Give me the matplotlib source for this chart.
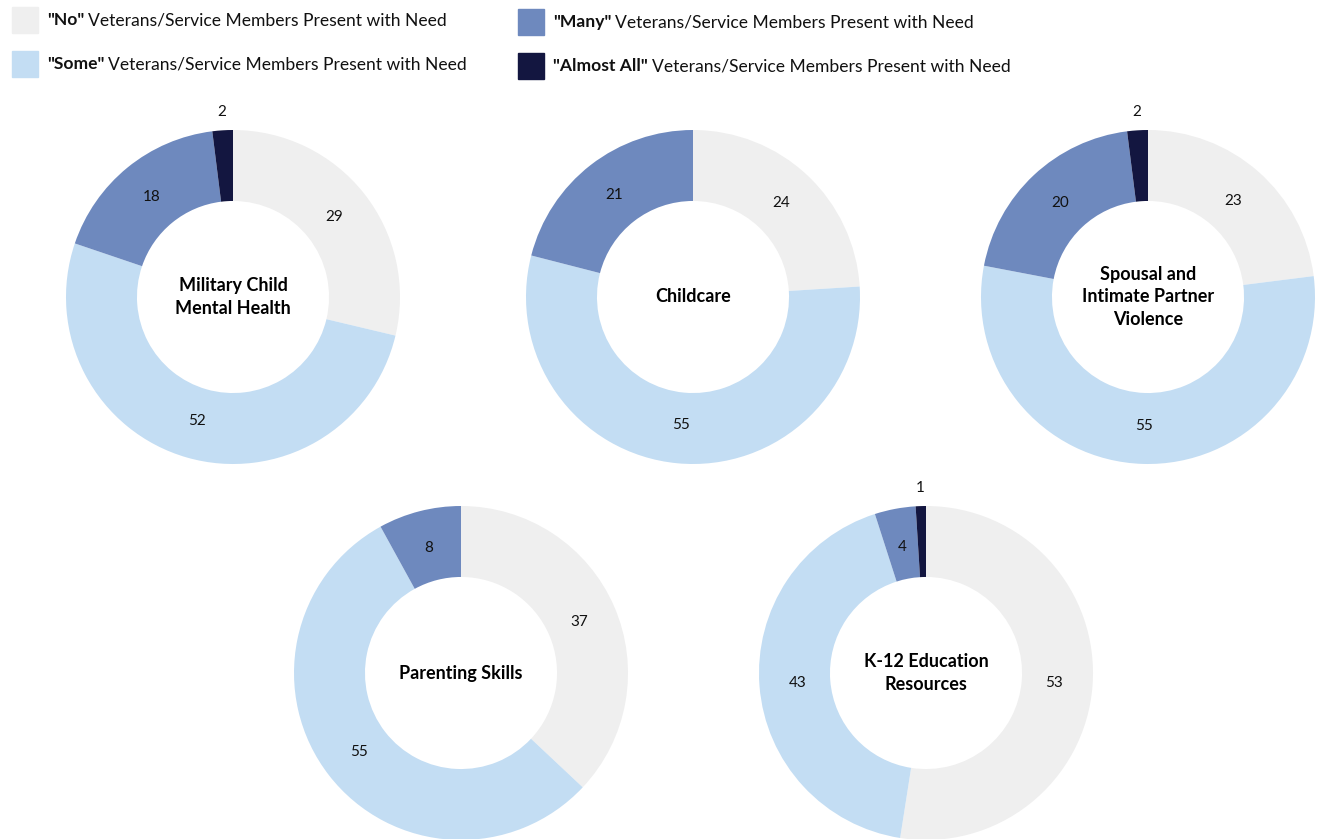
import numpy as np
import matplotlib.pyplot as plt
from matplotlib.patches import Rectangle

plt.rcParams['font.family'] = ['Lato', 'DejaVu Sans']

categories = ['"No"', '"Some"', '"Many"', '"Almost All"']
colors = ['#efefef', '#c3ddf3', '#6e89be', '#131640']

topics = ['Military Child\nMental Health', 'Childcare',
          'Spousal and\nIntimate Partner\nViolence',
          'Parenting Skills', 'K-12 Education\nResources']
no_vals = [29, 24, 23, 37, 53]
some_vals = [52, 55, 55, 55, 43]
many_vals = [18, 21, 20, 8, 4]
almost_all_vals = [2, 0, 2, 0, 1]

# donut centres in pixels (x, y from top), outer radius in pixels
centres = [(233, 297), (693, 297), (1148, 297), (461, 673), (926, 673)]
R = 167
W, H = 1317, 839

fig = plt.figure(figsize=(W / 100, H / 100), dpi=100)

for i, topic in enumerate(topics):
    cx, cy = centres[i]
    ax = fig.add_axes([(cx - R) / W, (H - cy - R) / H, 2 * R / W, 2 * R / H])
    vals = [no_vals[i], some_vals[i], many_vals[i], almost_all_vals[i]]
    wedges, _ = ax.pie(vals, colors=colors, startangle=90, counterclock=False,
                       radius=1.0, wedgeprops=dict(width=0.425, linewidth=0))
    total = sum(vals)
    cum = 0
    for v in vals:
        if v == 0:
            continue
        mid = (cum + v / 2) / total * 2 * np.pi
        cum += v
        # thin slices get their number outside the ring
        r = 0.77 if v >= 3 else 1.11
        ax.text(r * np.sin(mid), r * np.cos(mid), str(v), ha='center',
                va='center', fontsize=11, color='#111111')
    ax.text(0, 0, topic, ha='center', va='center', fontsize=13,
            fontweight='bold', linespacing=1.4)
    ax.set_xlim(-1, 1)
    ax.set_ylim(-1, 1)
    ax.set_aspect('equal')
    ax.axis('off')

# legend: colour box, bold category, plain remainder
legend_pos = [(12, 20), (12, 64), (518, 22), (518, 66)]
fig.canvas.draw()
renderer = fig.canvas.get_renderer()
for (px, py), cat, col in zip(legend_pos, categories, colors):
    fig.patches.append(Rectangle((px / W, (H - py - 13) / H), 26 / W, 26 / H,
                                 transform=fig.transFigure, color=col))
    t = fig.text((px + 35) / W, (H - py) / H, cat, fontsize=12.6,
                 fontweight='bold', va='center', color='#111111')
    bb = t.get_window_extent(renderer)
    fig.text(bb.x1 / W + 4 / W, (H - py) / H,
             'Veterans/Service Members Present with Need', fontsize=12.6,
             va='center', color='#111111')

fig.savefig('out.png', dpi=100)
